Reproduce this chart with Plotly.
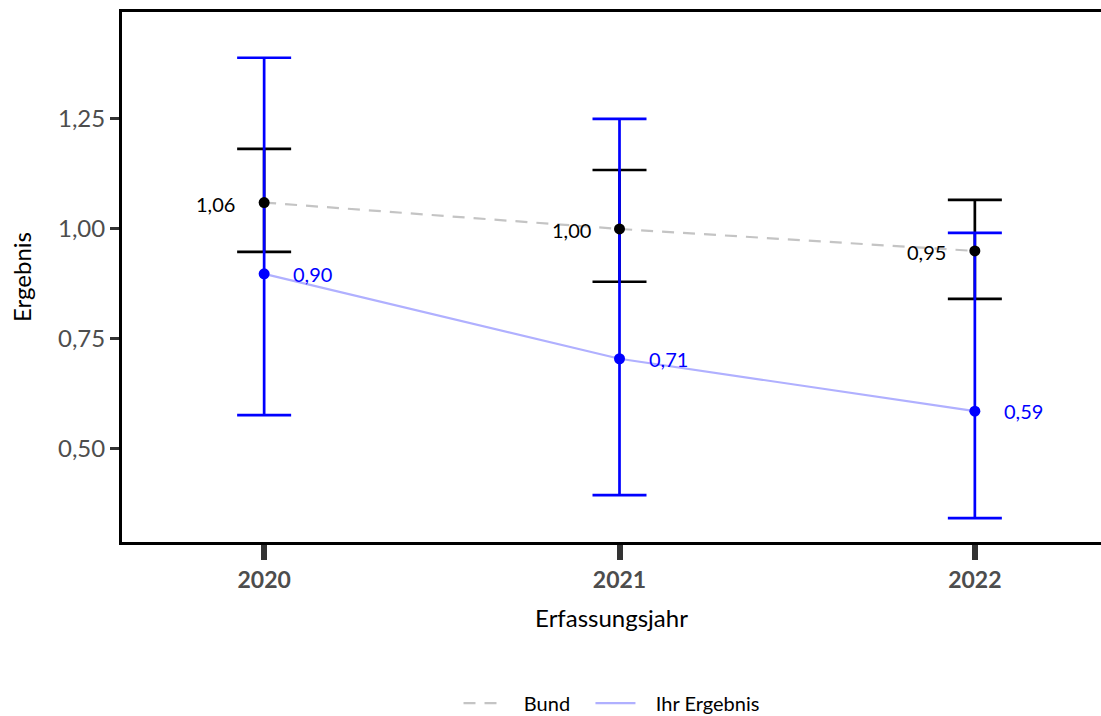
import plotly.graph_objects as go

years = [2020, 2021, 2022]
tick_labels = ["2020", "2021", "2022"]

bund_val = [1.06, 1.00, 0.95]
bund_lo = [0.948, 0.880, 0.841]
bund_hi = [1.182, 1.134, 1.066]

ihr_val = [0.898, 0.705, 0.586]
ihr_lo = [0.577, 0.395, 0.343]
ihr_hi = [1.389, 1.250, 0.991]

bund_lbl = ["1,06", "1,00", "0,95"]
ihr_lbl = ["0,90", "0,71", "0,59"]

y_ticks = [0.50, 0.75, 1.00, 1.25]
y_tick_text = ["0,50", "0,75", "1,00", "1,25"]

FONT = "Lato, 'Open Sans', sans-serif"
NB = "\u00a0"

fig = go.Figure()

fig.add_trace(go.Scatter(
    x=years, y=bund_val, mode="lines", name=NB * 3 + "Bund" + NB * 3,
    line=dict(color="#c4c4c4", width=2.2, dash="12px,9px"),
))
fig.add_trace(go.Scatter(
    x=years, y=ihr_val, mode="lines", name=NB * 3 + "Ihr Ergebnis",
    line=dict(color="#b0b0ff", width=2.2),
))
# Bund error bars (drawn under blue bars)
fig.add_trace(go.Scatter(
    x=years, y=bund_val, mode="markers", showlegend=False,
    marker=dict(color="rgba(0,0,0,0)", size=1),
    error_y=dict(type="data", symmetric=False,
                 array=[h - v for h, v in zip(bund_hi, bund_val)],
                 arrayminus=[v - l for l, v in zip(bund_lo, bund_val)],
                 color="black", thickness=2.7, width=27),
))
fig.add_trace(go.Scatter(
    x=years, y=ihr_val, mode="markers", showlegend=False,
    marker=dict(color="#0000ff", size=11),
    error_y=dict(type="data", symmetric=False,
                 array=[h - v for h, v in zip(ihr_hi, ihr_val)],
                 arrayminus=[v - l for l, v in zip(ihr_lo, ihr_val)],
                 color="#0000ff", thickness=2.7, width=27),
))
fig.add_trace(go.Scatter(
    x=years, y=bund_val, mode="markers", showlegend=False,
    marker=dict(color="black", size=11),
))

annotations = []
for x, y, t in zip(years, bund_val, bund_lbl):
    annotations.append(dict(x=x, y=y, text=t, showarrow=False, xanchor="right",
                            yanchor="middle", xshift=-27, yshift=-1,
                            font=dict(family=FONT, size=20, color="black")))
for x, y, t in zip(years, ihr_val, ihr_lbl):
    annotations.append(dict(x=x, y=y, text=t, showarrow=False, xanchor="left",
                            yanchor="middle", xshift=27, yshift=0,
                            font=dict(family=FONT, size=20, color="#0000ff")))

fig.update_layout(
    width=1101, height=716,
    margin=dict(l=122, r=0, t=12, b=174),
    paper_bgcolor="white", plot_bgcolor="white",
    font=dict(family=FONT, color="black"),
    annotations=annotations,
    xaxis=dict(
        range=[2019.6, 2022.355], tickvals=years, ticktext=tick_labels,
        showgrid=False, zeroline=False,
        showline=True, linecolor="black", linewidth=3, mirror=True,
        ticks="outside", ticklen=15, tickwidth=5.5, tickcolor="#333333",
        tickfont=dict(family=FONT, size=23, color="#4d4d4d", weight="bold"),
        title=dict(text="Erfassungsjahr", font=dict(family=FONT, size=24, color="black"), standoff=19),
    ),
    yaxis=dict(
        range=[0.2886, 1.493], tickvals=y_ticks, ticktext=y_tick_text,
        showgrid=False, zeroline=False,
        showline=True, linecolor="black", linewidth=3,
        ticks="outside", ticklen=9, tickwidth=3, tickcolor="#333333",
        tickfont=dict(family=FONT, size=24, color="#4d4d4d"),
        title=dict(text="Ergebnis", font=dict(family=FONT, size=24, color="black"), standoff=20),
    ),
    legend=dict(orientation="h", x=0.5, xanchor="center",
                yref="container", y=0.018, yanchor="middle",
                font=dict(family=FONT, size=20, color="black"), itemwidth=40),
)

fig.write_html("out.html", config={"displayModeBar": False},
               post_script="document.body.style.margin='0';document.body.style.overflow='hidden';")
